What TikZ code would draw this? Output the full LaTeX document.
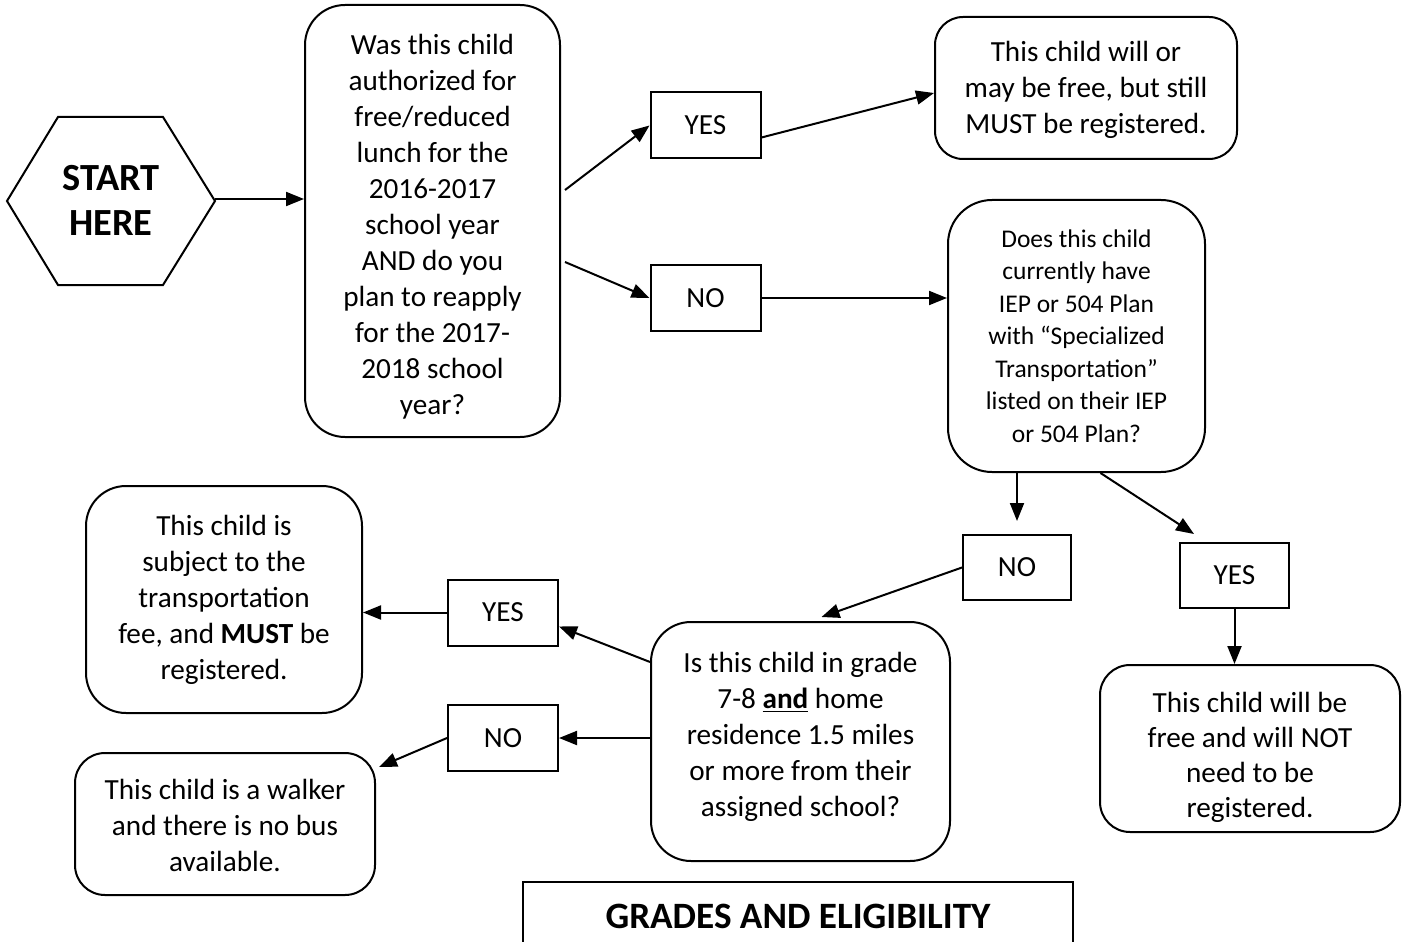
\documentclass[tikz,border=0pt]{standalone}
\usepackage{fontspec}
\setmainfont{Carlito}
\usetikzlibrary{arrows.meta}
\begin{document}
\begin{tikzpicture}[x=0.5pt,y=-0.5pt,
 box/.style={draw,line width=1pt,rounded corners=20pt,inner sep=0pt},
 txt/.style={align=center,font=\fontsize{14.6}{18}\selectfont,inner sep=0pt},
 lbl/.style={draw,line width=1pt,align=center,font=\fontsize{14.6}{18}\selectfont,inner sep=0pt,minimum width=55pt,minimum height=33pt},
 arr/.style={line width=1pt,-{Triangle[length=9pt,width=7pt]}}]
\useasboundingbox (0,0) rectangle (1406,941);
% start hexagon
\draw[line width=1pt] (7,201)--(58,117)--(163,117)--(215,201)--(163,285)--(58,285)--cycle;
\node[align=center,font=\fontsize{19.2}{22.5}\selectfont\bfseries] (start) at (111,200) {START\\HERE};
\coordinate (starttip) at (215,199);
% question 1
\node[box,minimum width=127.5pt,minimum height=216pt] (q1) at (432.5,221) {};
\node[txt] (q1t) at (432.5,227) {Was this child\\authorized for\\free/reduced\\lunch for the\\2016-2017\\school year\\AND do you\\plan to reapply\\for the 2017-\\2018 school\\year?};
\coordinate (c1) at (565,190);
\coordinate (c2) at (565,262);
\node[lbl] (yes1) at (705.5,125.5) {YES};
\node[lbl] (no1) at (705.5,298) {NO};
\node[box,rounded corners=14pt,minimum width=151pt,minimum height=71pt] (r1) at (1086,88) {};
\node[txt] (r1t) at (1086,90) {This child will or\\may be free, but still\\MUST be registered.};
\node[box,rounded corners=22pt,minimum width=128.5pt,minimum height=136pt] (q2) at (1076.5,336) {};
\node[txt,font=\fontsize{12.75}{16.25}\selectfont] (q2t) at (1076.5,336) {Does this child\\currently have\\IEP or 504 Plan\\with “Specialized\\Transportation”\\listed on their IEP\\or 504 Plan?};
\node[lbl,minimum width=54pt,minimum height=32.5pt] (no2) at (1017,567.5) {NO};
\node[lbl,minimum width=54.5pt,minimum height=32.5pt] (yes2) at (1234.5,575.5) {YES};
\node[box,rounded corners=15pt,minimum width=150pt,minimum height=83.5pt] (r2) at (1250,748.5) {};
\node[txt,font=\fontsize{14.6}{17.5}\selectfont] (r2t) at (1250,757) {This child will be\\free and will NOT\\need to be\\registered.};
\node[box,minimum width=149.5pt,minimum height=119.5pt] (q3) at (800.5,741.5) {};
\node[txt] (q3t) at (800.5,736.5) {Is this child in grade\\7-8 \underline{\textbf{and}} home\\residence 1.5 miles\\or more from their\\assigned school?};
\node[lbl] (yes3) at (503,612.5) {YES};
\node[lbl] (no3) at (503,738) {NO};
\node[box,minimum width=138pt,minimum height=113.5pt] (r3) at (224,599.5) {};
\node[txt] (r3t) at (224,599.5) {This child is\\subject to the\\transportation\\fee, and \textbf{MUST} be\\registered.};
\node[box,rounded corners=15pt,minimum width=150pt,minimum height=71pt] (r4) at (225,824) {};
\node[txt] (r4t) at (225,825) {This child is a walker\\and there is no bus\\available.};
% grades box
\draw[line width=1pt] (523,950)--(523,882)--(1073,882)--(1073,950);
\node[font=\fontsize{18.6}{22}\selectfont\bfseries] (grades) at (798,916) {GRADES AND ELIGIBILITY};
% connectors
\draw[arr] (starttip) -- (q1.west |- starttip);
\draw[arr] (c1) -- (yes1.west);
\draw[arr] (c2) -- (no1.west);
\draw[arr] ([yshift=-6pt]yes1.east) -- ([yshift=-2.5pt]r1.west);
\draw[arr] (no1.east) -- (q2.west |- no1.east);
\draw[arr] (no2.north |- q2.south) -- ([yshift=6.5pt]no2.north);
\draw[arr] ([xshift=12pt]q2.south) -- ([xshift=7.5pt,yshift=4pt]yes2.north west);
\draw[arr] (yes2.south) -- (r2.north -| yes2.south);
\draw[arr] (no2.west) -- ([xshift=10.5pt,yshift=2pt]q3.north);
\draw[arr] ([yshift=39.75pt]q3.west) -- ([yshift=-7pt]yes3.east);
\draw[arr] (yes3.west) -- (r3.east |- yes3.west);
\draw[arr] (q3.west |- no3.east) -- (no3.east);
\draw[arr] (no3.west) -- ([xshift=1.5pt,yshift=-7.5pt]r4.north east);
\end{tikzpicture}
\end{document}
